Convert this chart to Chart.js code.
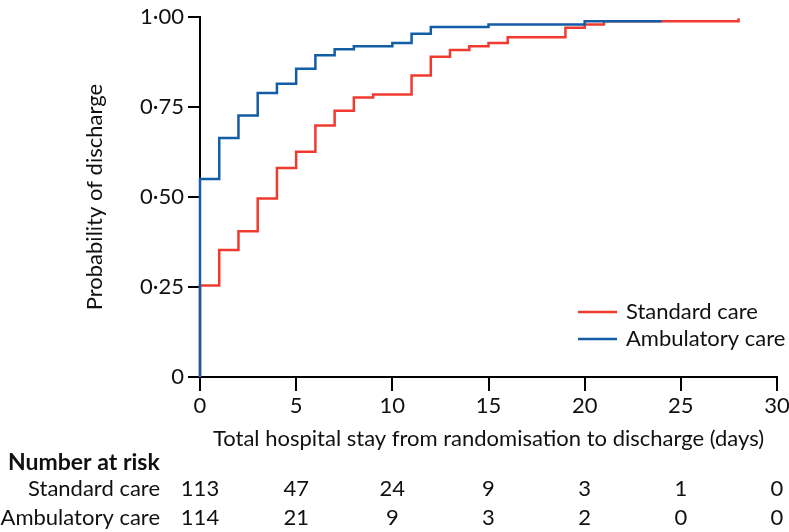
<!DOCTYPE html>
<html lang="en">
<head>
    <meta charset="UTF-8">
    <title>Probability of discharge</title>
    <style>
        body {
            margin: 0;
            background: #fff;
        }
        #wrap {
            width: 789px;
            height: 532px;
        }
    </style>
</head>
<body>
    <div id="wrap"><canvas id="kmChart" width="789" height="532"></canvas></div>
    <script src="https://cdn.jsdelivr.net/npm/chart.js"></script>
    <script>
        // Kaplan-Meier steps (day, probability)
        const standardDays = [0, 0, 1, 2, 3, 4, 5, 6, 7, 8, 9, 11, 12, 13, 14, 15, 16, 19, 20, 21, 28, 28];
        const standardProb = [0, 0.254, 0.353, 0.405, 0.496, 0.581, 0.626, 0.699, 0.740, 0.777, 0.785, 0.838, 0.890, 0.909, 0.919, 0.928, 0.944, 0.971, 0.980, 0.989, 0.989, 0.997];
        const ambulatoryDays = [0, 0, 1, 2, 3, 4, 5, 6, 7, 8, 10, 11, 12, 15, 20, 24];
        const ambulatoryProb = [0, 0.55, 0.664, 0.727, 0.789, 0.815, 0.857, 0.894, 0.911, 0.919, 0.928, 0.954, 0.973, 0.980, 0.989, 0.989];

        const xTicks = [0, 5, 10, 15, 20, 25, 30];
        const yTicks = [0, 0.25, 0.5, 0.75, 1];
        const riskStandard = [113, 47, 24, 9, 3, 1, 0];
        const riskAmbulatory = [114, 21, 9, 3, 2, 0, 0];

        const RED = '#ef3b2f';
        const BLUE = '#135ca6';
        const FONT = "Lato, 'DejaVu Sans Condensed', sans-serif";

        const toPoints = (xs, ys) => xs.map((x, i) => ({ x: x, y: ys[i] }));

        // legend inside the plot + number at risk table under it
        const extras = {
            id: 'extras',
            afterDraw(chart) {
                const ctx = chart.ctx;
                const xs = chart.scales.x;
                ctx.save();
                ctx.font = '22px ' + FONT;
                ctx.fillStyle = '#111';
                ctx.textBaseline = 'middle';
                ctx.lineWidth = 2.5;

                const legend = [['Standard care', RED, 312], ['Ambulatory care', BLUE, 339]];
                legend.forEach(([label, color, y]) => {
                    ctx.strokeStyle = color;
                    ctx.beginPath();
                    ctx.moveTo(578, y);
                    ctx.lineTo(617, y);
                    ctx.stroke();
                    ctx.textAlign = 'left';
                    ctx.fillText(label, 626, y);
                });

                ctx.font = 'bold 23px ' + FONT;
                ctx.textAlign = 'left';
                ctx.fillText('Number at risk', 8, 463);

                ctx.font = '22px ' + FONT;
                ctx.textAlign = 'right';
                ctx.fillText('Standard care', 160, 489);
                ctx.fillText('Ambulatory care', 160, 518);

                ctx.textAlign = 'center';
                xTicks.forEach((t, i) => {
                    const px = xs.getPixelForValue(t);
                    ctx.fillText(String(riskStandard[i]), px, 489);
                    ctx.fillText(String(riskAmbulatory[i]), px, 518);
                });
                ctx.restore();
            }
        };

        new Chart(document.getElementById('kmChart'), {
            type: 'line',
            data: {
                datasets: [
                    {
                        label: 'Ambulatory care',
                        data: toPoints(ambulatoryDays, ambulatoryProb),
                        borderColor: BLUE,
                        borderWidth: 2.5,
                        stepped: true,
                        pointRadius: 0,
                        fill: false,
                        clip: false
                    },
                    {
                        label: 'Standard care',
                        data: toPoints(standardDays, standardProb),
                        borderColor: RED,
                        borderWidth: 2.5,
                        stepped: true,
                        pointRadius: 0,
                        fill: false,
                        clip: false
                    }
                ]
            },
            options: {
                responsive: false,
                animation: false,
                layout: { padding: { top: 8, right: 12, left: 0, bottom: 0 } },
                plugins: {
                    legend: { display: false },
                    tooltip: { enabled: false }
                },
                scales: {
                    x: {
                        type: 'linear',
                        min: 0,
                        max: 30,
                        afterBuildTicks: s => { s.ticks = xTicks.map(v => ({ value: v })); },
                        afterFit: s => { s.height = 155; s.paddingRight = 0; s.paddingLeft = 0; },
                        border: { color: '#000', width: 2 },
                        grid: { drawOnChartArea: false, color: '#000', lineWidth: 2, tickLength: 14 },
                        ticks: { color: '#111', font: { family: FONT, size: 22 }, padding: 2, maxRotation: 0 },
                        title: {
                            display: true,
                            text: 'Total hospital stay from randomisation to discharge (days)',
                            color: '#111',
                            font: { family: FONT, size: 22 },
                            padding: { top: 0, bottom: 80 }
                        }
                    },
                    y: {
                        min: 0,
                        max: 1,
                        afterBuildTicks: s => { s.ticks = yTicks.map(v => ({ value: v })); },
                        afterFit: s => { s.width = 200; },
                        border: { color: '#000', width: 2 },
                        grid: { drawOnChartArea: false, color: '#000', lineWidth: 2, tickLength: 12 },
                        ticks: {
                            color: '#111',
                            font: { family: FONT, size: 22 },
                            padding: 4,
                            callback: v => v === 0 ? '0' : v.toFixed(2).replace('.', '\u00b7')
                        },
                        title: {
                            display: true,
                            text: 'Probability of discharge',
                            color: '#111',
                            font: { family: FONT, size: 22 },
                            padding: { top: 82, bottom: 0 }
                        }
                    }
                }
            },
            plugins: [extras]
        });
    </script>
</body>
</html>
